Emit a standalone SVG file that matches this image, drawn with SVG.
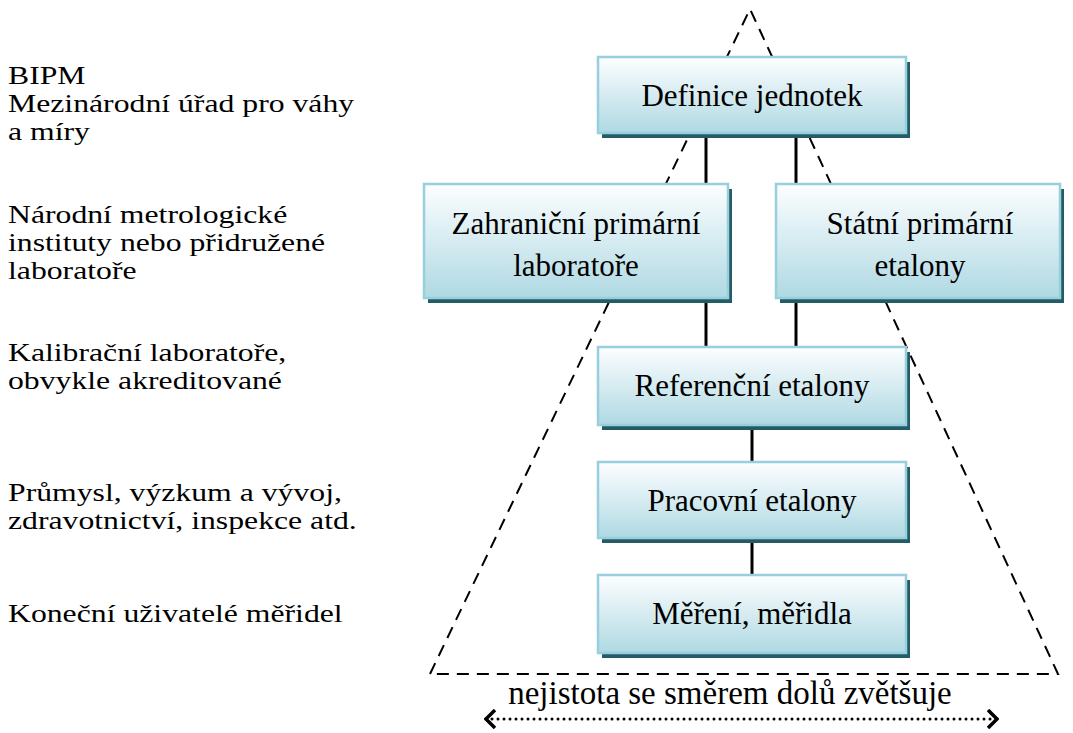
<svg xmlns="http://www.w3.org/2000/svg" width="1073" height="733" viewBox="0 0 1073 733">
<defs>
<linearGradient id="g" x1="0" y1="0" x2="0" y2="1">
<stop offset="0" stop-color="#fdfeff"/>
<stop offset="1" stop-color="#afd9e3"/>
</linearGradient>
<marker id="ah" viewBox="0 0 12 20" refX="10" refY="10" markerWidth="12" markerHeight="20" markerUnits="userSpaceOnUse" orient="auto-start-reverse">
<path d="M1,1 L10,10 L1,19" fill="none" stroke="#000" stroke-width="3.5"/>
</marker>
</defs>
<style>
.t{font-family:"Liberation Serif","Times New Roman",serif;fill:#000}
.lt{font-size:26px}
.bt{font-size:31px;text-anchor:middle}
.box{fill:url(#g);stroke:#97d0dc;stroke-width:2.5}
.sh{fill:#235c67}
.con{stroke:#000;stroke-width:3;fill:none}
.dash{stroke:#000;stroke-width:2;fill:none;stroke-dasharray:12,8}
</style>
<rect width="1073" height="733" fill="#fff"/>
<g id="pyramid">
<path class="dash" d="M430,674 L750,9 L1058,674 Z"/>
</g>
<g id="labels" transform="translate(8,0) scale(1.22,1)">
<text class="t lt" x="0" y="84">BIPM</text>
<text class="t lt" x="0" y="112">Mezinárodní úřad pro váhy</text>
<text class="t lt" x="0" y="140">a míry</text>
<text class="t lt" x="0" y="223">Národní metrologické</text>
<text class="t lt" x="0" y="251">instituty nebo přidružené</text>
<text class="t lt" x="0" y="279">laboratoře</text>
<text class="t lt" x="0" y="361">Kalibrační laboratoře,</text>
<text class="t lt" x="0" y="389">obvykle akreditované</text>
<text class="t lt" x="0" y="501">Průmysl, výzkum a vývoj,</text>
<text class="t lt" x="0" y="529">zdravotnictví, inspekce atd.</text>
<text class="t lt" x="0" y="622">Koneční uživatelé měřidel</text>
</g>
<g id="connectors">
<line class="con" x1="706" y1="133" x2="706" y2="184"/>
<line class="con" x1="796" y1="133" x2="796" y2="184"/>
<line class="con" x1="706" y1="298" x2="706" y2="347"/>
<line class="con" x1="796" y1="298" x2="796" y2="347"/>
<line class="con" x1="752" y1="425" x2="752" y2="462"/>
<line class="con" x1="752" y1="538" x2="752" y2="575"/>
</g>
<g id="definice">
<rect class="sh" x="602" y="62" width="308" height="76"/>
<rect class="box" x="598" y="57" width="308" height="76"/>
<text class="t bt" x="752" y="106">Definice jednotek</text>
</g>
<g id="zahranicni">
<rect class="sh" x="428" y="189" width="304" height="114"/>
<rect class="box" x="424" y="184" width="304" height="114"/>
<text class="t bt" x="576" y="234">Zahraniční primární</text>
<text class="t bt" x="576" y="276">laboratoře</text>
</g>
<g id="statni">
<rect class="sh" x="780" y="189" width="284" height="114"/>
<rect class="box" x="776" y="184" width="284" height="114"/>
<text class="t bt" x="920" y="234">Státní primární</text>
<text class="t bt" x="920" y="276">etalony</text>
</g>
<g id="referencni">
<rect class="sh" x="602" y="352" width="308" height="78"/>
<rect class="box" x="598" y="347" width="308" height="78"/>
<text class="t bt" x="752" y="396">Referenční etalony</text>
</g>
<g id="pracovni">
<rect class="sh" x="602" y="467" width="308" height="76"/>
<rect class="box" x="598" y="462" width="308" height="76"/>
<text class="t bt" x="752" y="511">Pracovní etalony</text>
</g>
<g id="mereni">
<rect class="sh" x="602" y="580" width="308" height="78"/>
<rect class="box" x="598" y="575" width="308" height="78"/>
<text class="t bt" x="752" y="624">Měření, měřidla</text>
</g>
<g id="uncertainty">
<text class="t" x="730" y="704" font-size="33" text-anchor="middle">nejistota se směrem dolů zvětšuje</text>
<line x1="486" y1="719" x2="997" y2="719" stroke="#000" stroke-width="3" stroke-dasharray="0,6" stroke-linecap="round" marker-start="url(#ah)" marker-end="url(#ah)"/>
</g>
</svg>
